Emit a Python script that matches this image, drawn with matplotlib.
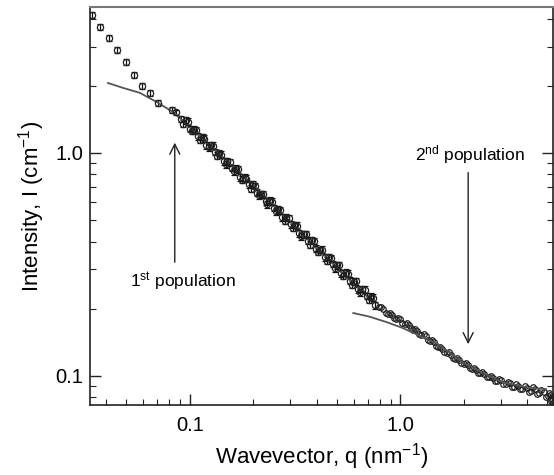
import matplotlib
matplotlib.use('Agg')
import matplotlib.pyplot as plt
from matplotlib.ticker import LogLocator, NullFormatter

plt.rcParams['font.family'] = 'Liberation Sans'
plt.rcParams['mathtext.fontset'] = 'custom'
plt.rcParams['mathtext.rm'] = 'Liberation Sans'
plt.rcParams['mathtext.it'] = 'Liberation Sans:italic'

# low-q points (sparse, with error bars)
q_low = [0.0342, 0.0375, 0.0413, 0.0451, 0.0498, 0.0543, 0.0592, 0.0646, 0.0705, 0.0822, 0.0860]
i_low = [4.15, 3.68, 3.28, 2.90, 2.56, 2.24, 2.00, 1.86, 1.68, 1.56, 1.52]

# mid-q points (dense, with error bars)
q_mid = [0.0912, 0.0955, 0.100, 0.105, 0.110, 0.115, 0.120, 0.126, 0.132, 0.138,
         0.145, 0.151, 0.158, 0.166, 0.174, 0.182, 0.191, 0.200, 0.209, 0.219,
         0.229, 0.240, 0.251, 0.263, 0.275, 0.288, 0.302, 0.316, 0.331, 0.347,
         0.363, 0.380, 0.398, 0.417, 0.437, 0.457, 0.479, 0.501, 0.525, 0.550,
         0.575, 0.603, 0.631, 0.661, 0.692, 0.724, 0.759]
i_mid = [1.42, 1.40, 1.28, 1.27, 1.19, 1.18, 1.08, 1.08, 1.01, 1.00,
         0.918, 0.918, 0.857, 0.849, 0.778, 0.773, 0.724, 0.723, 0.662, 0.653,
         0.607, 0.610, 0.566, 0.558, 0.514, 0.512, 0.478, 0.475, 0.436, 0.432,
         0.403, 0.405, 0.372, 0.367, 0.340, 0.341, 0.317, 0.313, 0.288, 0.290,
         0.267, 0.264, 0.244, 0.245, 0.228, 0.226, 0.207]
q_mid2 = [0.0933, 0.0977, 0.102, 0.107, 0.112, 0.117, 0.123, 0.129, 0.135, 0.141,
          0.148, 0.155, 0.162, 0.170, 0.178, 0.186, 0.195, 0.204, 0.214, 0.224,
          0.234, 0.245, 0.257, 0.269, 0.282, 0.295, 0.309, 0.324, 0.339, 0.355,
          0.372, 0.389, 0.407, 0.427, 0.447, 0.468, 0.490, 0.513, 0.537, 0.562,
          0.589, 0.617, 0.646, 0.676, 0.708, 0.741]
i_mid2 = [1.355, 1.380, 1.259, 1.265, 1.143, 1.159, 1.062, 1.079, 0.973, 0.982,
          0.889, 0.908, 0.828, 0.843, 0.759, 0.766, 0.692, 0.711, 0.646, 0.652,
          0.589, 0.605, 0.547, 0.552, 0.497, 0.511, 0.461, 0.472, 0.423, 0.431,
          0.387, 0.402, 0.360, 0.368, 0.328, 0.337, 0.303, 0.313, 0.281, 0.287,
          0.256, 0.265, 0.237, 0.243, 0.219, 0.224]

# high-q points (circles only)
q_high = [0.794, 0.832, 0.871, 0.912, 0.955, 1.00, 1.05, 1.10, 1.15, 1.20,
          1.26, 1.32, 1.38, 1.45, 1.51, 1.58, 1.66, 1.74, 1.82, 1.91,
          2.00, 2.09, 2.19, 2.29, 2.40, 2.51, 2.63, 2.75, 2.88, 3.02,
          3.16, 3.31, 3.47, 3.63, 3.80, 3.98, 4.17, 4.37, 4.57, 4.79,
          5.01, 5.13, 5.25, 5.37]
i_high = [0.204, 0.200, 0.190, 0.187, 0.180, 0.179, 0.171, 0.169, 0.161, 0.159,
          0.152, 0.150, 0.143, 0.141, 0.135, 0.132, 0.126, 0.124, 0.119, 0.117,
          0.113, 0.112, 0.107, 0.106, 0.103, 0.102, 0.0984, 0.0980, 0.0948, 0.0951,
          0.0920, 0.0923, 0.0893, 0.0902, 0.0873, 0.0883, 0.0857, 0.0867, 0.0838, 0.0843,
          0.0807, 0.0822, 0.0776, 0.0813]
q_high2 = [0.813, 0.851, 0.891, 0.933, 0.977, 1.02, 1.07, 1.12, 1.17, 1.23,
           1.29, 1.35, 1.41, 1.48, 1.55, 1.62, 1.70, 1.78, 1.86, 1.95,
           2.04, 2.14, 2.24, 2.34, 2.45, 2.57, 2.69, 2.82, 2.95, 3.09,
           3.24, 3.39, 3.55, 3.72, 3.89, 4.07, 4.27, 4.47, 4.68, 4.90,
           5.07, 5.19, 5.30, 5.22]
i_high2 = [0.204, 0.192, 0.191, 0.182, 0.182, 0.173, 0.172, 0.163, 0.162, 0.153,
           0.153, 0.144, 0.144, 0.136, 0.135, 0.127, 0.127, 0.120, 0.120, 0.114,
           0.114, 0.108, 0.108, 0.103, 0.104, 0.0986, 0.0998, 0.0946, 0.0966, 0.0916,
           0.0938, 0.0889, 0.0916, 0.0867, 0.0899, 0.0847, 0.0887, 0.0826, 0.0865, 0.0800,
           0.0839, 0.0767, 0.0752, 0.0790]

# model fits for the two populations
fit1_q = [0.0409, 0.0481, 0.058, 0.0698, 0.083, 0.1, 0.15, 0.2, 0.3, 0.4, 0.55, 0.7]
fit1_i = [2.06, 1.96, 1.86, 1.69, 1.53, 1.31, 0.92, 0.72, 0.49, 0.375, 0.28, 0.225]
fit2_q = [0.598, 0.713, 0.859, 1.02, 1.5, 2.0, 3.0, 4.08, 4.92]
fit2_i = [0.191, 0.184, 0.174, 0.164, 0.139, 0.114, 0.094, 0.088, 0.087]

fig = plt.figure(figsize=(5.54, 4.75), dpi=100)
ax = fig.add_axes([90 / 554, 70 / 475, 463 / 554, 398 / 475])

err_style = dict(fmt='o', mfc='none', mec='#222222', ms=4.5, mew=0.9, ecolor='#111111',
                 elinewidth=0.9, capsize=2.5, capthick=0.9)
ax.errorbar(q_low, i_low, yerr=[v * 0.03 for v in i_low], **err_style)
ax.errorbar(q_mid, i_mid, yerr=[v * 0.035 for v in i_mid], **err_style)
ax.errorbar(q_mid2, i_mid2, yerr=[v * 0.035 for v in i_mid2], **err_style)
ax.plot(q_high, i_high, 'o', mfc='none', mec='#222222', ms=4, mew=0.9)
ax.plot(q_high2, i_high2, 'o', mfc='none', mec='#222222', ms=4, mew=0.9)

ax.plot(fit1_q, fit1_i, color='#555555', lw=1.3)
ax.plot(fit2_q, fit2_i, color='#555555', lw=1.3)

ax.set_xscale('log')
ax.set_yscale('log')
ax.set_xlim(0.0336, 5.31)
ax.set_ylim(0.0738, 4.52)

ax.set_xticks([0.1, 1.0])
ax.set_xticklabels(['0.1', '1.0'])
ax.set_yticks([0.1, 1.0])
ax.set_yticklabels(['0.1', '1.0'])
ax.xaxis.set_minor_locator(LogLocator(subs=range(2, 10)))
ax.yaxis.set_minor_locator(LogLocator(subs=range(2, 10)))
ax.xaxis.set_minor_formatter(NullFormatter())
ax.yaxis.set_minor_formatter(NullFormatter())
ax.tick_params(which='both', direction='in', right=True, top=False, labelsize=14.5, color='#222222')
ax.tick_params(which='major', length=8, width=1)
ax.tick_params(which='minor', length=4, width=0.8)
ax.tick_params(axis='x', pad=8)
ax.tick_params(axis='y', pad=5)

for s in ['left', 'bottom', 'right']:
    ax.spines[s].set_linewidth(1.2)
    ax.spines[s].set_color('#222222')
ax.spines['top'].set_linewidth(1.5)
ax.spines['top'].set_color('#777777')

ax.set_xlabel('Wavevector, q (nm$^{-1}$)', fontsize=16, labelpad=4)
ax.set_ylabel('Intensity, I (cm$^{-1}$)', fontsize=16, labelpad=6)

ax.annotate('', xy=(0.0849, 1.144), xytext=(0.0849, 0.314),
            arrowprops=dict(arrowstyle='->', color='#222222', lw=1, mutation_scale=18))
ax.text(0.0926, 0.264, '1$^{\\mathrm{st}}$ population', fontsize=12.5, ha='center', va='center')
ax.annotate('', xy=(2.10, 0.1345), xytext=(2.10, 0.839),
            arrowprops=dict(arrowstyle='->', color='#222222', lw=1, mutation_scale=18))
ax.text(2.14, 0.98, '2$^{\\mathrm{nd}}$ population', fontsize=12.5, ha='center', va='center')

plt.savefig('out.png', dpi=100)
